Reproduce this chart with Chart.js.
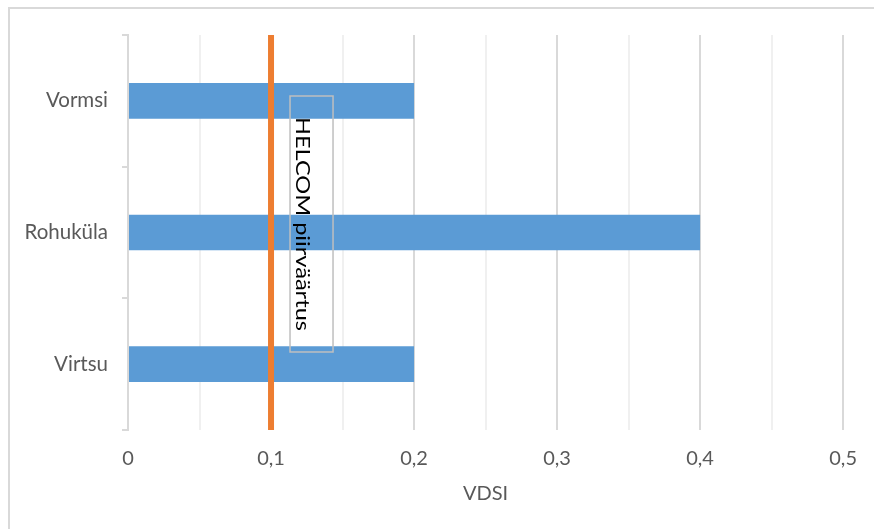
<!DOCTYPE html>
<html>
<head>
<meta charset="utf-8">
<script src="https://cdn.jsdelivr.net/npm/chart.js@4"></script>
<style>
  html, body { margin: 0; padding: 0; background: #ffffff; }
  #wrap { width: 874px; height: 529px; position: relative; }
</style>
</head>
<body>
<div id="wrap"><canvas id="chart" width="874" height="529"></canvas></div>
<script>
// VDSI per sampling site
const categories = ['Vormsi', 'Rohuküla', 'Virtsu'];
const vdsiValues = [0.2, 0.4, 0.2];

// HELCOM threshold value and its label
const helcomLimit = 0.1;
const helcomLabel = 'HELCOM piirväärtus';

// Value axis range and label text
const axisMin = 0;
const axisMax = 0.5;
const axisStep = 0.05;
const axisTitle = 'VDSI';

const FONT = 'Lato, "Liberation Sans", sans-serif';
const TEXT_GREY = '#595959';
const LINE_GREY = '#d9d9d9';

// White background plus the outer frame of the figure
const framePlugin = {
  id: 'frame',
  beforeDraw(chart) {
    const ctx = chart.ctx;
    ctx.save();
    ctx.fillStyle = '#ffffff';
    ctx.fillRect(0, 0, chart.width, chart.height);
    ctx.strokeStyle = LINE_GREY;
    ctx.lineWidth = 2;
    ctx.beginPath();
    ctx.moveTo(9, chart.height);
    ctx.lineTo(9, 8);
    ctx.lineTo(chart.width, 8);
    ctx.stroke();
    ctx.restore();
  }
};

// Threshold line with its rotated caption box
const limitPlugin = {
  id: 'helcomLimit',
  afterDatasetsDraw(chart) {
    const ctx = chart.ctx;
    const area = chart.chartArea;
    const xs = chart.scales.x;
    const px = xs.getPixelForValue(helcomLimit);
    ctx.save();
    ctx.strokeStyle = '#ED7D31';
    ctx.lineWidth = 6;
    ctx.beginPath();
    ctx.moveTo(px, area.top);
    ctx.lineTo(px, area.bottom);
    ctx.stroke();

    // caption box
    const boxLeft = px + 19;
    const boxWidth = 43;
    const boxTop = area.top + 61;
    const boxHeight = 256;
    ctx.strokeStyle = '#bfbfbf';
    ctx.lineWidth = 1.5;
    ctx.strokeRect(boxLeft, boxTop, boxWidth, boxHeight);

    // caption text, read top to bottom, filling most of the box length
    ctx.translate(boxLeft + 6, boxTop + boxHeight / 2);
    ctx.rotate(Math.PI / 2);
    ctx.fillStyle = '#000000';
    ctx.font = '20px ' + FONT;
    ctx.textAlign = 'center';
    ctx.textBaseline = 'alphabetic';
    const textLen = boxHeight - 42;
    const w = ctx.measureText(helcomLabel).width;
    ctx.scale(textLen / w, 1);
    ctx.fillText(helcomLabel, 0, 0);
    ctx.restore();
  }
};

const formatTick = v => {
  const hundredths = Math.round(v * 100);
  if (hundredths % 10 !== 0) return '';
  return (hundredths / 100).toString().replace('.', ',');
};

const isMajor = v => Math.round(v * 100) % 10 === 0;

new Chart(document.getElementById('chart'), {
  type: 'bar',
  data: {
    labels: categories,
    datasets: [{
      label: axisTitle,
      data: vdsiValues,
      backgroundColor: '#5B9BD5',
      borderWidth: 0,
      categoryPercentage: 1,
      barPercentage: 0.271
    }]
  },
  options: {
    indexAxis: 'y',
    responsive: false,
    animation: false,
    layout: { padding: { top: 35, right: 29, bottom: 0, left: 0 } },
    plugins: {
      legend: { display: false },
      tooltip: { enabled: false }
    },
    scales: {
      x: {
        type: 'linear',
        min: axisMin,
        max: axisMax,
        afterFit(scale) { scale.height = 99; },
        afterBuildTicks(scale) {
          const ticks = [];
          for (let i = 0; i <= Math.round((axisMax - axisMin) / axisStep); i++) {
            ticks.push({ value: +(axisMin + i * axisStep).toFixed(2) });
          }
          scale.ticks = ticks;
        },
        border: { display: false },
        grid: {
          drawTicks: false,
          color: c => isMajor(c.tick.value) ? LINE_GREY : '#f0f0f0',
          lineWidth: 2
        },
        ticks: {
          autoSkip: false,
          maxRotation: 0,
          padding: 17,
          color: TEXT_GREY,
          font: { family: FONT, size: 20 },
          callback: v => formatTick(v)
        },
        title: {
          display: true,
          text: axisTitle,
          color: TEXT_GREY,
          font: { family: FONT, size: 20 },
          padding: { top: 0, bottom: 23 }
        }
      },
      y: {
        type: 'category',
        afterFit(scale) { scale.width = 128; },
        border: { display: true, color: LINE_GREY, width: 2 },
        grid: {
          offset: true,
          drawOnChartArea: false,
          drawTicks: true,
          tickLength: 6,
          color: LINE_GREY,
          lineWidth: 2
        },
        ticks: {
          padding: 14,
          color: TEXT_GREY,
          font: { family: FONT, size: 20.5 }
        }
      }
    }
  },
  plugins: [framePlugin, limitPlugin]
});
</script>
</body>
</html>
